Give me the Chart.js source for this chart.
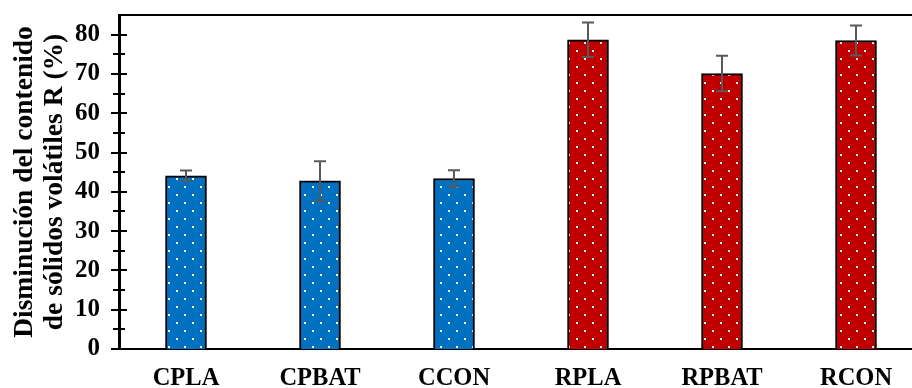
<!DOCTYPE html>
<html>
<head>
<meta charset="utf-8">
<script src="https://cdn.jsdelivr.net/npm/chart.js@4.4.1/dist/chart.umd.min.js"></script>
<style>
  html, body { margin: 0; padding: 0; width: 912px; height: 388px; overflow: hidden; background: #fff; }
  #wrap { position: absolute; left: 0; top: 0; width: 930px; height: 388px; }
</style>
</head>
<body>
<div id="wrap"><canvas id="c" width="930" height="388"></canvas></div>
<script>
const categories = ['CPLA', 'CPBAT', 'CCON', 'RPLA', 'RPBAT', 'RCON'];
const values = [44.1, 42.8, 43.4, 78.7, 70.1, 78.5];
const errors = [1.3, 5.0, 2.1, 4.4, 4.5, 3.8];
const barColors = ['#0070C0', '#0070C0', '#0070C0', '#C00000', '#C00000', '#C00000'];
const yTitle = ['Disminución del contenido', 'de sólidos volátiles R (%)'];

function dotPattern(color) {
  const p = document.createElement('canvas');
  p.width = 16; p.height = 16;
  const g = p.getContext('2d');
  g.fillStyle = color; g.fillRect(0, 0, 16, 16);
  g.fillStyle = '#ffffff';
  g.fillRect(0, 2, 2, 2);
  g.fillRect(8, 10, 2, 2);
  return document.getElementById('c').getContext('2d').createPattern(p, 'repeat');
}

const FONT = "'Liberation Serif', 'Times New Roman', serif";

const errorBars = {
  id: 'errorBars',
  afterDatasetsDraw(chart) {
    const ctx = chart.ctx, y = chart.scales.y;
    const meta = chart.getDatasetMeta(0);
    ctx.save();
    ctx.strokeStyle = '#595959';
    ctx.lineWidth = 2;
    meta.data.forEach((bar, i) => {
      const x = bar.x;
      const yt = y.getPixelForValue(values[i] + errors[i]);
      const yb = y.getPixelForValue(values[i] - errors[i]);
      ctx.beginPath();
      ctx.moveTo(x, yt); ctx.lineTo(x, yb);
      ctx.moveTo(x - 6, yt); ctx.lineTo(x + 6, yt);
      ctx.moveTo(x - 6, yb); ctx.lineTo(x + 6, yb);
      ctx.stroke();
    });
    ctx.restore();
  }
};

const frame = {
  id: 'frame',
  afterDraw(chart) {
    const ctx = chart.ctx, y = chart.scales.y, a = chart.chartArea;
    ctx.save();
    ctx.strokeStyle = '#000';
    ctx.lineWidth = 2;
    ctx.beginPath();
    ctx.moveTo(a.left, a.top); ctx.lineTo(chart.width, a.top);
    ctx.stroke();
    for (let v = 0; v <= 80; v += 5) {
      const py = Math.round(y.getPixelForValue(v));
      const half = v % 10 === 0 ? 8 : 6;
      ctx.beginPath();
      ctx.moveTo(a.left - half, py); ctx.lineTo(a.left + half, py);
      ctx.stroke();
    }
    ctx.restore();
  }
};

new Chart(document.getElementById('c'), {
  type: 'bar',
  data: {
    labels: categories,
    datasets: [{
      data: values,
      backgroundColor: barColors.map(dotPattern),
      borderColor: '#000',
      borderWidth: 2,
      barThickness: 41
    }]
  },
  options: {
    responsive: false,
    animation: false,
    layout: { padding: { top: 15, right: 7, left: 0, bottom: 0 } },
    plugins: { legend: { display: false }, tooltip: { enabled: false } },
    scales: {
      x: {
        grid: { display: false, drawTicks: false },
        border: { display: true, color: '#000', width: 2 },
        ticks: { color: '#000', font: { family: FONT, size: 24.5, weight: 'bold' }, padding: 15 },
        afterFit(s) { s.height = 39; s.paddingLeft = 0; s.paddingRight = 0; }
      },
      y: {
        min: 0, max: 85,
        grid: { display: false, drawTicks: false },
        border: { display: true, color: '#000', width: 3 },
        ticks: { stepSize: 10, includeBounds: false, color: '#000', font: { family: FONT, size: 25, weight: 'bold' }, padding: 19 },
        afterBuildTicks(s) { s.ticks = s.ticks.filter(t => t.value % 10 === 0); },
        afterFit(s) { s.width = 119; s.paddingTop = 0; s.paddingBottom = 0; },
        title: {
          display: true, text: yTitle, color: '#000',
          font: { family: FONT, size: 27.5, weight: 'bold', lineHeight: 1.09 },
          padding: { top: 10, bottom: 0 }
        }
      }
    }
  },
  plugins: [errorBars, frame]
});
</script>
</body>
</html>
